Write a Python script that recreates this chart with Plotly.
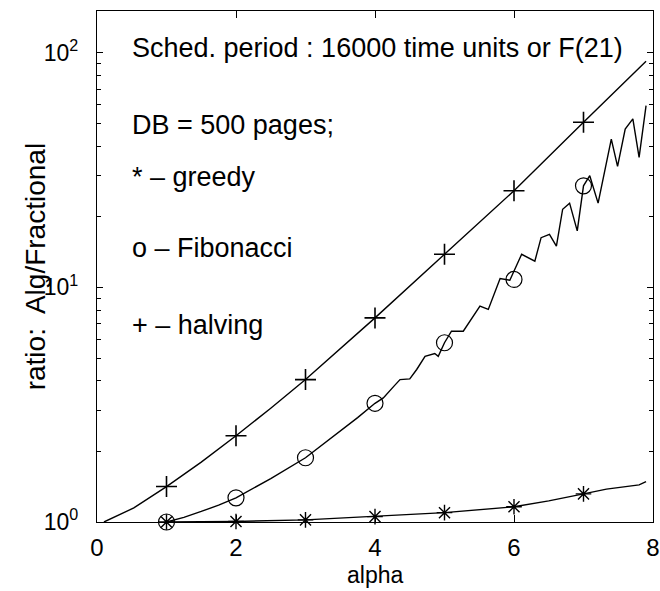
import plotly.graph_objects as go

# ---- data ----
halving_x = [0.1, 0.53, 1, 1.5, 2, 2.5, 3, 4, 5, 6, 7, 7.9]
halving_y = [1.00, 1.148, 1.416, 1.799, 2.331, 3.055, 4.046, 7.413, 13.84, 25.82, 50.58, 92.04]

greedy_x = [1, 2, 3, 4, 5, 6, 6.5, 7, 7.33, 7.8, 7.9]
greedy_y = [1.000, 1.005, 1.021, 1.054, 1.096, 1.161, 1.23, 1.318, 1.380, 1.439, 1.486]

fib_x = [1, 1.25, 1.5, 1.75, 2, 2.5, 3, 3.25, 3.5, 3.75, 4, 4.12, 4.27, 4.36, 4.50, 4.60,
         4.72, 4.86, 4.91, 5.0, 5.10, 5.27, 5.51, 5.63, 5.80, 5.94, 6.11, 6.30, 6.39,
         6.51, 6.61, 6.70, 6.80, 6.91, 7.0, 7.09, 7.21, 7.40, 7.49, 7.60, 7.71, 7.80, 7.90]
fib_y = [1.000, 1.047, 1.109, 1.180, 1.268, 1.531, 1.879, 2.138, 2.455, 2.786, 3.206, 3.381,
         3.784, 4.046, 4.074, 4.467, 5.082, 5.224, 5.082, 5.808, 6.501, 6.501, 8.318, 8.054,
         10.91, 10.72, 13.84, 12.94, 16.29, 16.83, 15.00, 21.53, 22.86, 17.42, 27.10, 29.92,
         22.86, 42.85, 32.81, 47.32, 52.24, 35.81, 59.57]

marker_x = [1, 2, 3, 4, 5, 6, 7]
halving_m = [1.416, 2.331, 4.046, 7.413, 13.84, 25.82, 50.58]
fib_m = [1.0, 1.268, 1.879, 3.206, 5.808, 10.81, 27.10]
greedy_m = [1.0, 1.005, 1.021, 1.054, 1.096, 1.161, 1.318]

x_ticks = [0, 2, 4, 6, 8]
y_ticks = [1, 10, 100]
y_ticktext = ["10<sup>0</sup>", "10<sup>1</sup>", "10<sup>2</sup>"]

notes = ["Sched. period : 16000 time units or F(21)", "DB = 500 pages;",
         "* \u2013 greedy", "o \u2013 Fibonacci", "+ \u2013 halving"]
note_y = [0.928, 0.777, 0.675, 0.536, 0.386]

x_title = "alpha"
y_title = "ratio:  Alg/Fractional"

FONT = "Liberation Sans, Arial, Helvetica, sans-serif"
LW = 1.4

fig = go.Figure()
for xs, ys in [(halving_x, halving_y), (fib_x, fib_y), (greedy_x, greedy_y)]:
    fig.add_trace(go.Scatter(x=xs, y=ys, mode="lines", line=dict(color="black", width=LW),
                             showlegend=False, cliponaxis=False))

fig.add_trace(go.Scatter(x=marker_x, y=halving_m, mode="markers", showlegend=False, cliponaxis=False,
                         marker=dict(symbol="cross-thin", size=15, color="black",
                                     line=dict(color="black", width=1.6))))
fig.add_trace(go.Scatter(x=marker_x, y=fib_m, mode="markers", showlegend=False, cliponaxis=False,
                         marker=dict(symbol="circle-open", size=16, color="black",
                                     line=dict(color="black", width=1.2))))
fig.add_trace(go.Scatter(x=marker_x, y=greedy_m, mode="markers", showlegend=False, cliponaxis=False,
                         marker=dict(symbol="asterisk-open", size=13, color="black",
                                     line=dict(color="black", width=1.4))))

for t, yy in zip(notes, note_y):
    fig.add_annotation(text=t, xref="paper", yref="paper", x=0.06, y=yy,
                       xanchor="left", yanchor="middle", showarrow=False,
                       font=dict(family=FONT, size=27, color="black"))

fig.add_annotation(text=x_title, xref="paper", yref="paper", x=0.5, y=-0.104,
                   xanchor="center", yanchor="middle", showarrow=False,
                   font=dict(family=FONT, size=23, color="black"))
fig.add_annotation(text=y_title, xref="paper", yref="paper", x=-0.11, y=0.5,
                   xanchor="center", yanchor="middle", showarrow=False, textangle=-90,
                   font=dict(family=FONT, size=28, color="black"))

fig.update_layout(
    width=660, height=591,
    margin=dict(l=97, r=7, t=11, b=69),
    paper_bgcolor="white", plot_bgcolor="white",
    font=dict(family=FONT, size=24, color="black"),
)
fig.update_xaxes(
    range=[0, 8], tickvals=x_ticks, ticks="inside", ticklen=7, tickwidth=1,
    tickcolor="black", showline=True, linecolor="black", linewidth=1.3, mirror="allticks",
    showgrid=False, zeroline=False, tickfont=dict(size=24), ticklabelstandoff=4,
    automargin=False,
)
fig.update_yaxes(
    type="log", range=[0, 2.178], tickvals=y_ticks, ticktext=y_ticktext,
    ticks="inside", ticklen=6, tickwidth=1, tickcolor="black",
    showline=True, linecolor="black", linewidth=1.3, mirror="allticks",
    showgrid=False, zeroline=False, tickfont=dict(size=23), ticklabelstandoff=13,
    minor=dict(ticks="inside", ticklen=4, tickcolor="black", tickwidth=1, dtick="D1", showgrid=False),
    automargin=False,
)

fig.write_html("out.html")
